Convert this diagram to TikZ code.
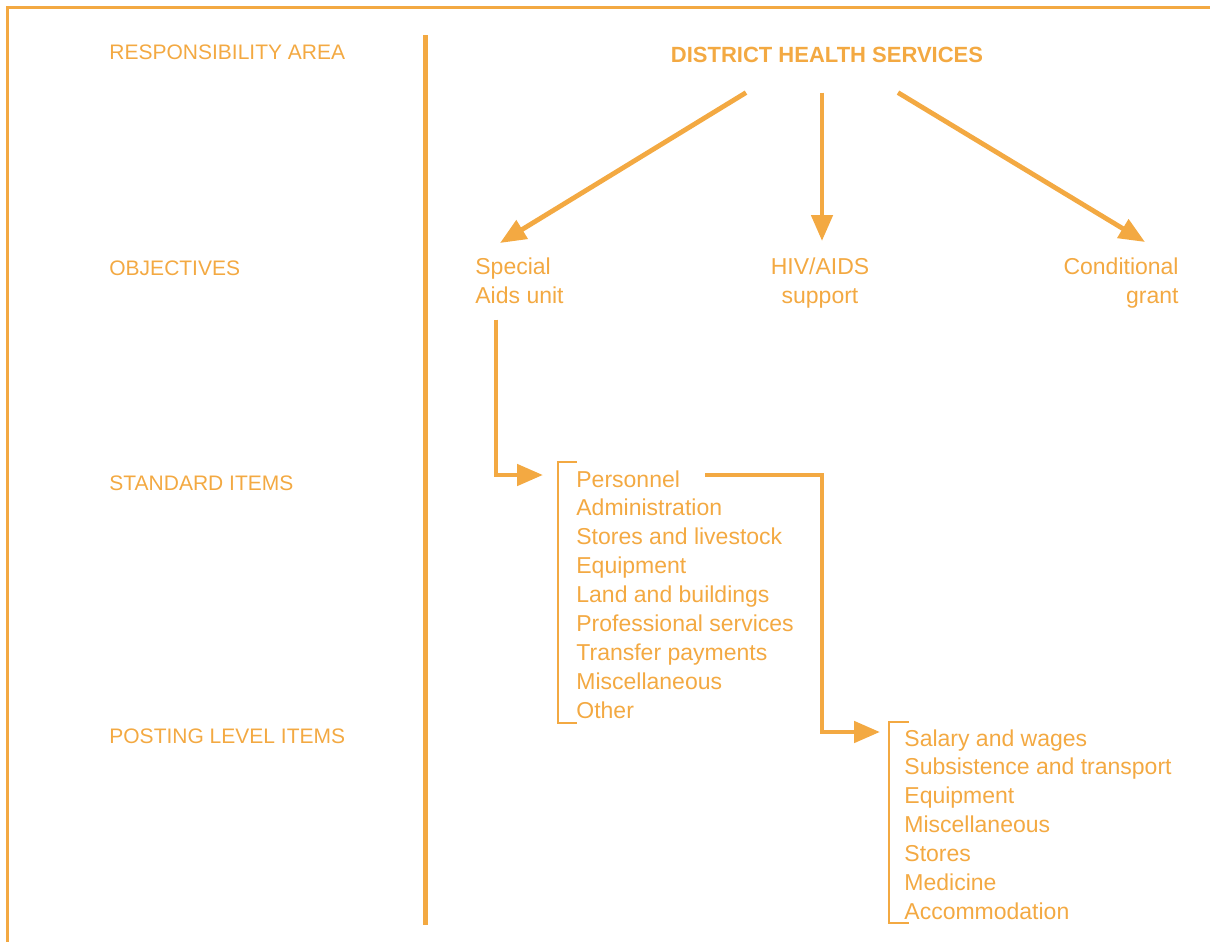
\documentclass[tikz,border=0pt]{standalone}
\usepackage{fontspec}
\setmainfont{Liberation Sans}
\usepackage{xcolor}
\usetikzlibrary{positioning,arrows.meta,calc}
\definecolor{dhsorange}{RGB}{243,169,66}

\begin{document}
\begin{tikzpicture}[x=0.5pt,y=-0.5pt,
  lbl/.style={anchor=base west, inner sep=0pt, text=dhsorange, font=\fontsize{10.5}{12}\selectfont},
  itm/.style={anchor=base west, inner sep=0pt, text=dhsorange, font=\fontsize{11.5}{14.5}\selectfont},
  obj/.style={inner sep=0pt, text=dhsorange, font=\fontsize{11.5}{14.5}\selectfont},
  arr/.style={dhsorange, line width=2.4pt, -{Triangle[length=13pt,width=10.5pt]}},
  brk/.style={dhsorange, line width=1.3pt}]
  \useasboundingbox (0,0) rectangle (1210,942);

  % frame and divider
  \draw[dhsorange, line width=1.5pt] (7,942) -- (7,7.5) -- (1210,7.5);
  \draw[dhsorange, line width=2.5pt] (425,35) -- (425,925);

  % row labels
  \node[lbl] (l-resp) at (109,59) {RESPONSIBILITY AREA};
  \node[lbl] (l-obj)  at (109,275) {OBJECTIVES};
  \node[lbl] (l-std)  at (109,490) {STANDARD ITEMS};
  \node[lbl] (l-pst)  at (109,743) {POSTING LEVEL ITEMS};

  % responsibility area
  \node[inner sep=0pt, anchor=base, text=dhsorange,
        font=\bfseries\fontsize{11}{13}\selectfont] (title) at (827,62) {DISTRICT HEALTH SERVICES};

  % objectives
  \node[obj, align=left, anchor=north west] (spec) at (475,257) {Special\\Aids unit};
  \node[obj, align=center, anchor=north] (hiv) at (820,257) {HIV/AIDS\\support};
  \node[obj, align=right, anchor=north east] (cond) at (1179,257) {Conditional\\grant};

  \draw[arr] ($(title.south)+(-81,30)$) -- ($(spec.north west)+(25,-14)$);
  \draw[arr] ($(title.south)+(-5,30)$) -- ($(hiv.north)+(2,-16)$);
  \draw[arr] ($(title.south)+(71,30)$) -- ($(cond.north east)+(-34,-15)$);

  % standard items
  \foreach \t [count=\i] in {Personnel, Administration, Stores and livestock, Equipment,
      Land and buildings, Professional services, Transfer payments, Miscellaneous, Other}
    \node[itm] (std-\i) at (576,{487+28.9*(\i-1)}) {\t};
  \draw[brk] (577,462) -- (558,462) -- (558,723) -- (577,723);

  % posting level items
  \foreach \t [count=\i] in {Salary and wages, Subsistence and transport, Equipment,
      Miscellaneous, Stores, Medicine, Accommodation}
    \node[itm] (pst-\i) at (904,{746+28.9*(\i-1)}) {\t};
  \draw[brk] (909,722) -- (889,722) -- (889,923) -- (909,923);

  % elbow connectors
  \draw[arr] ($(spec.south west)+(21,16)$) |- ($(std-1.base west)+(-33,-12)$);
  \draw[arr] ($(std-1.base east)+(25,-12)$) -| ($(pst-1.base west)+(-82,-14)$)
    -- ($(pst-1.base west)+(-24,-14)$);
\end{tikzpicture}
\end{document}
